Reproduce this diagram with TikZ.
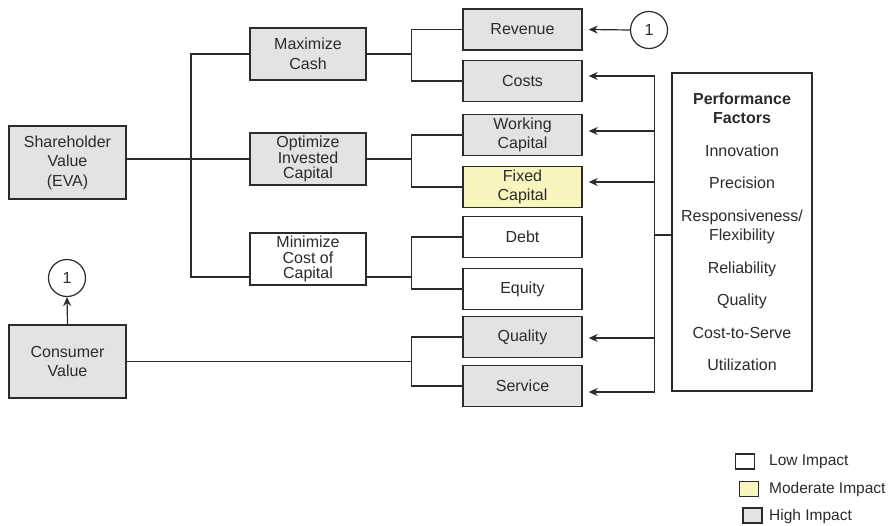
\documentclass[tikz,border=0pt]{standalone}
\usepackage{fontspec}
\setmainfont{Liberation Sans}
\usetikzlibrary{arrows.meta}
\definecolor{boxgray}{HTML}{E3E3E3}
\definecolor{boxyellow}{HTML}{F8F6BE}
\definecolor{ink}{HTML}{2B2B2B}
\tikzset{
  box/.style={draw=ink, line width=1.4pt, text=ink, align=center, inner sep=0pt,
    font=\fontsize{16}{19.5}\selectfont},
  bigbox/.style={box, minimum width=117pt, minimum height=73pt},
  midbox/.style={box, minimum width=116pt, minimum height=52pt},
  tight/.style={font=\fontsize{16}{15.5}\selectfont},
  leaf/.style={box, minimum width=119pt, minimum height=41pt},
  high/.style={fill=boxgray},
  moderate/.style={fill=boxyellow},
  low/.style={fill=white},
  conn/.style={draw=ink, line width=1.2pt},
  arr/.style={conn, -{Stealth[length=9pt,width=8pt]}},
  ref/.style={circle, draw=ink, line width=1.2pt, minimum size=37pt, inner sep=0pt,
    text=ink, font=\fontsize{16}{19}\selectfont},
  keybox/.style={draw=ink, line width=1.1pt, minimum width=19pt, minimum height=15pt, inner sep=0pt},
  keytext/.style={anchor=west, text=ink, inner sep=0pt, font=\fontsize{15.5}{18}\selectfont}
}
\begin{document}
\begin{tikzpicture}[x=1pt, y=-1pt]
\useasboundingbox (0,0) rectangle (891,525);

% value drivers
\node[bigbox, high] (sv) at (67.5,162.5) {Shareholder\\Value\\(EVA)};
\node[bigbox, high] (cv) at (67.5,361.5) {Consumer\\Value};

\node[midbox, high] (mc) at (308,54) {Maximize\\Cash};
\node[midbox, high, tight] (oic) at (308,159) {Optimize\\Invested\\Capital};
\node[midbox, low, tight] (mcc) at (308,259) {Minimize\\Cost of\\Capital};

\node[leaf, high] (rev) at (522.5,29.5) {Revenue};
\node[leaf, high] (cst) at (522.5,81) {Costs};
\node[leaf, high] (wc) at (522.5,135) {Working\\Capital};
\node[leaf, moderate] (fc) at (522.5,187) {Fixed\\Capital};
\node[leaf, low] (debt) at (522.5,237) {Debt};
\node[leaf, low] (eq) at (522.5,289) {Equity};
\node[leaf, high] (qual) at (522.5,337) {Quality};
\node[leaf, high] (serv) at (522.5,386) {Service};

% performance factors
\node[box, low, minimum width=140pt, minimum height=318pt] (pf) at (742,232)
  {\textbf{Performance}\\\textbf{Factors}\\[13pt]
   Innovation\\[13pt]
   Precision\\[13pt]
   Responsiveness/\\Flexibility\\[13pt]
   Reliability\\[13pt]
   Quality\\[13pt]
   Cost-to-Serve\\[13pt]
   Utilization};

% off-page references
\node[ref] (c1) at (649,30) {1};
\node[ref] (c2) at (67,278) {1};

% tree connectors
\coordinate (tr) at (191,0);
\coordinate (br) at (411.5,0);
\draw[conn] (mc.west) -- (mc.west -| tr) |- ([yshift=-18pt]mcc.west);
\draw[conn] ([yshift=3.5pt]sv.east) -- (oic.west);

\draw[conn] (mc.east) -- (mc.east -| br);
\draw[conn] (rev.west) -- (rev.west -| br) -- (cst.west -| br) -- (cst.west);
\draw[conn] (oic.east) -- (oic.east -| br);
\draw[conn] (wc.west) -- (wc.west -| br) -- (fc.west -| br) -- (fc.west);
\draw[conn] ([yshift=-18pt]mcc.east) -- ([yshift=-18pt]mcc.east -| br);
\draw[conn] (debt.west) -- (debt.west -| br) -- (eq.west -| br) -- (eq.west);
\draw[conn] (cv.east) -- (cv.east -| br);
\draw[conn] (qual.west) -- (qual.west -| br) -- (serv.west -| br) -- (serv.west);

% performance factor bus
\coordinate (bus) at (654.5,0);
\coordinate (aC) at ([xshift=6pt,yshift=5pt]cst.east);
\coordinate (aW) at ([xshift=6pt,yshift=4pt]wc.east);
\coordinate (aF) at ([xshift=6pt,yshift=5pt]fc.east);
\coordinate (aQ) at ([xshift=6pt,yshift=-1pt]qual.east);
\coordinate (aS) at ([xshift=6pt,yshift=-6pt]serv.east);
\draw[conn] (aC -| bus) -- (aS -| bus);
\draw[conn] ([yshift=-3pt]pf.west) -- ([yshift=-3pt]pf.west -| bus);
\draw[arr] (aC -| bus) -- (aC);
\draw[arr] (aW -| bus) -- (aW);
\draw[arr] (aF -| bus) -- (aF);
\draw[arr] (aQ -| bus) -- (aQ);
\draw[arr] (aS -| bus) -- (aS);

% reference arrows
\draw[arr] (c1.west) -- ([xshift=6pt]rev.east);
\draw[arr] (cv.north) -- (c2.south);

% legend
\node[keybox, low] (klo) at (745,461.5) {};
\node[keybox, moderate] (kmo) at (749,489) {};
\node[keybox, high] (khi) at (752.5,515.5) {};
\node[keytext] (tlo) at (769,462) {Low Impact};
\node[keytext] (tmo) at (769,489) {Moderate Impact};
\node[keytext] (thi) at (769,516) {High Impact};
\end{tikzpicture}
\end{document}
